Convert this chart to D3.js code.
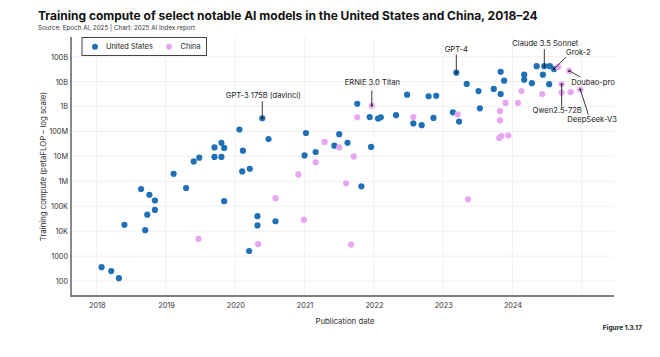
<!DOCTYPE html>
<html><head><meta charset="utf-8">
<script src="https://cdn.jsdelivr.net/npm/d3@7"></script>
<style>body{margin:0;background:#fff} svg{display:block}</style>
</head><body><svg id="c" width="660" height="357"></svg>
<script>
// ---- data (publication date as decimal year, training compute in petaFLOP) ----
const usDates = [2018.07,2018.21,2018.32,2018.40,2018.64,2018.76,2018.84,2018.84,2018.73,2018.70,
  2019.11,2019.29,2019.40,2019.48,2019.70,2019.80,2019.84,2019.70,2019.80,2020.06,
  2020.11,2020.10,2020.21,2019.84,2020.32,2020.32,2020.20,2020.39,2020.48,2020.58,
  2021.02,2021.00,2021.16,2021.43,2021.50,2021.62,2021.82,2021.96,2021.76,2021.94,
  2022.06,2022.10,2022.32,2022.48,2022.57,2022.69,2022.79,2022.90,2022.86,2023.14,
  2023.23,2023.19,2023.34,2023.51,2023.53,2023.73,2023.83,2023.83,2023.88,2024.17,
  2024.17,2024.28,2024.35,2024.46,2024.54,2024.60,2024.44,2024.53];
const usValues = [3.6e2,2.5e2,1.3e2,1.8e4,4.9e5,2.9e5,1.7e5,7.1e4,4.6e4,1.1e4,
  2.0e6,5.4e5,6.3e6,8.9e6,2.3e7,3.5e7,2.2e7,9.5e6,9.5e6,1.2e8,
  1.7e7,2.5e6,3.2e6,1.6e5,4.0e4,1.7e4,1.6e3,3.4e8,5.0e7,2.5e4,
  8.7e7,1.1e7,1.5e7,2.7e7,7.8e7,3.5e7,6.3e5,2.4e7,1.3e9,3.8e8,
  3.3e8,3.7e8,4.5e8,3.0e9,2.1e8,1.8e8,2.6e9,2.7e9,3.5e8,5.9e8,
  2.5e8,2.3e10,8.1e9,4.2e9,8.5e8,5.1e9,3.2e9,2.5e10,1.1e10,1.9e10,
  1.2e10,8.7e9,4.2e10,4.2e10,4.2e10,3.2e10,1.9e10,7.9e9];
const cnDates = [2019.47,2020.33,2020.58,2020.91,2021.16,2020.99,2021.29,2021.50,2021.71,2021.60,
  2021.67,2021.76,2021.97,2022.57,2023.21,2023.36,2023.82,2023.82,2023.81,2023.84,
  2023.94,2023.90,2024.08,2024.13,2024.43,2024.66,2024.82,2024.71,2024.71,2024.84,2024.98];
const cnValues = [4.9e3,3.0e3,2.1e5,1.9e6,5.8e6,2.9e4,3.8e7,2.3e7,1.0e7,8.3e5,
  2.9e3,3.7e8,1.1e9,3.8e8,4.9e8,1.9e5,6.6e8,2.8e8,5.5e7,6.6e7,
  6.9e7,1.4e9,1.4e9,4.2e9,3.2e9,3.9e10,2.7e10,7.8e9,3.6e9,3.8e9,4.8e9];
const seriesNames = ["United States","China"];
const yTickValues = [1e2,1e3,1e4,1e5,1e6,1e7,1e8,1e9,1e10,1e11];
const yTickLabels = ["100","1000","10K","100K","1M","10M","100M","1B","10B","100B"];
const xTickYears = [2018,2019,2020,2021,2022,2023,2024];
const xGridYears = [2018,2019,2020,2021,2022,2023,2024,2025];
const annoNames  = ["GPT-3 175B (davinci)","ERNIE 3.0 Titan","GPT-4","Claude 3.5 Sonnet","Grok-2","Doubao-pro","Qwen2.5-72B","DeepSeek-V3"];
const annoDates  = [2020.39,2021.97,2023.19,2024.46,2024.60,2024.82,2024.71,2024.98];
const annoValues = [3.4e8,1.1e9,2.3e10,4.2e10,3.2e10,2.7e10,7.8e9,4.8e9];

// ---- layout ----
const W=660,H=357, L=71, R=614, T=37, B=296;
const FONT = "Inter, 'Noto Sans', sans-serif";
const blue="#1f70b5", pink="#e7a6f2", ink="#222";
const svg=d3.select("#c");
const x=d3.scaleLinear().domain([2017.629,2018+(R-96.7)/69.29]).range([L,R]);
const y=d3.scaleLog().domain([25,6.2e11]).range([B,T]);

// grid
const g=svg.append("g");
g.selectAll(".hg").data(yTickValues).join("line")
  .attr("x1",L).attr("x2",R).attr("y1",d=>y(d)).attr("y2",d=>y(d))
  .attr("stroke","#ececec").attr("stroke-width",0.8);
g.selectAll(".vg").data(xGridYears).join("line")
  .attr("x1",d=>x(d)).attr("x2",d=>x(d)).attr("y1",T).attr("y2",B)
  .attr("stroke","#ececec").attr("stroke-width",0.8);

// axes
const yAxis=d3.axisLeft(y).tickValues(yTickValues).tickSize(0).tickPadding(3)
  .tickFormat((d,i)=>yTickLabels[i]);
const ya=svg.append("g").attr("transform",`translate(${L},0)`).call(yAxis);
const xAxis=d3.axisBottom(x).tickValues(xTickYears).tickSize(0).tickPadding(7).tickFormat(d3.format("d"));
const xa=svg.append("g").attr("transform",`translate(0,${B})`).call(xAxis);
[ya,xa].forEach(a=>{a.select(".domain").remove();
  a.selectAll("text").attr("font-family",FONT).attr("font-size",7.3).attr("fill","#333");});
svg.append("line").attr("x1",L).attr("x2",L).attr("y1",T).attr("y2",B+0.7).attr("stroke","#555").attr("stroke-width",1.4);
svg.append("line").attr("x1",L).attr("x2",R).attr("y1",B).attr("y2",B).attr("stroke","#555").attr("stroke-width",1.4);

// points
const us=usDates.map((d,i)=>({d,v:usValues[i]}));
const cn=cnDates.map((d,i)=>({d,v:cnValues[i]}));
svg.append("g").selectAll("circle").data(us).join("circle")
  .attr("cx",p=>x(p.d)).attr("cy",p=>y(p.v)).attr("r",3.1).attr("fill",blue);
svg.append("g").selectAll("circle").data(cn).join("circle")
  .attr("cx",p=>x(p.d)).attr("cy",p=>y(p.v)).attr("r",3.1).attr("fill",pink);

// annotations: [text anchor, text x offset, baseline y offset, line end dx, dy] relative to point
const annoLayout=[
  ["middle",1,-20,0,-17],
  ["middle",0.6,-21,0,-15],
  ["middle",0,-21,0,-18],
  ["middle",1,-20,0,-17],
  ["start",12,-14,12,-12],
  ["start",2,14.5,11,6],
  ["middle",-4.5,28.5,0,22],
  ["start",-13,32.5,8,25]
];
const ag=svg.append("g");
annoNames.forEach((n,i)=>{
  const px=x(annoDates[i]), py=y(annoValues[i]); const lay=annoLayout[i];
  ag.append("line").attr("x1",px).attr("y1",py).attr("x2",px+lay[3]).attr("y2",py+lay[4])
    .attr("stroke","#222").attr("stroke-width",0.9);
  ag.append("circle").attr("cx",px).attr("cy",py).attr("r",1.0).attr("fill","#111");
  ag.append("text").attr("x",px+lay[1]).attr("y",py+lay[2]).attr("text-anchor",lay[0])
    .attr("font-family",FONT).attr("font-size",7.6).attr("fill",ink).text(n);
});

// legend
const lg=svg.append("g");
lg.append("rect").attr("x",82).attr("y",37.5).attr("width",124.5).attr("height",18)
  .attr("fill","#fff").attr("stroke","#444").attr("stroke-width",1);
lg.append("circle").attr("cx",95).attr("cy",46.7).attr("r",3).attr("fill",blue);
lg.append("text").attr("x",106).attr("y",49.4).attr("font-family",FONT).attr("font-size",7.4).attr("fill",ink).text(seriesNames[0]);
lg.append("circle").attr("cx",169).attr("cy",46.7).attr("r",3).attr("fill",pink);
lg.append("text").attr("x",180.5).attr("y",49.4).attr("font-family",FONT).attr("font-size",7.4).attr("fill",ink).text(seriesNames[1]);

// titles
svg.append("text").attr("x",38).attr("y",20).attr("font-family",FONT).attr("font-weight",700)
  .attr("font-size",12.0).attr("fill","#111")
  .text("Training compute of select notable AI models in the United States and China, 2018–24");
svg.append("text").attr("x",38).attr("y",29.5).attr("font-family",FONT).attr("font-size",6.3).attr("fill","#333")
  .text("Source: Epoch AI, 2025 | Chart: 2025 AI Index report");
svg.append("text").attr("transform",`translate(45.5,${(T+B)/2}) rotate(-90)`).attr("text-anchor","middle")
  .attr("font-family",FONT).attr("font-size",7.8).attr("fill","#333")
  .text("Training compute (petaFLOP – log scale)");
svg.append("text").attr("x",345).attr("y",324).attr("text-anchor","middle")
  .attr("font-family",FONT).attr("font-size",7.8).attr("fill","#333").text("Publication date");
svg.append("text").attr("x",642).attr("y",330).attr("text-anchor","end")
  .attr("font-family",FONT).attr("font-weight",700).attr("font-size",6.6).attr("fill","#222").text("Figure 1.3.17");
</script></body></html>
